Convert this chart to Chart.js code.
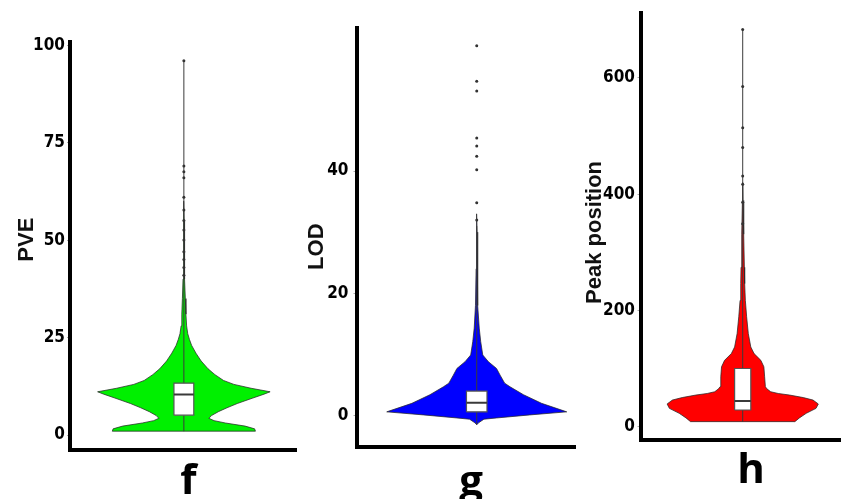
<!DOCTYPE html>
<html>
<head>
<meta charset="utf-8">
<script src="https://cdn.jsdelivr.net/npm/chart.js@4.4.1/dist/chart.umd.min.js"></script>
<style>
html, body { margin: 0; padding: 0; background: #fff; overflow: hidden; }
#wrap { position: relative; width: 844px; height: 499px; }
.panel { position: absolute; top: 0; height: 499px; }
</style>
</head>
<body>
<div id="wrap">
  <div class="panel" style="left:0;width:300px"><canvas id="pveChart"></canvas></div>
  <div class="panel" style="left:300px;width:280px"><canvas id="lodChart"></canvas></div>
  <div class="panel" style="left:580px;width:264px"><canvas id="peakChart"></canvas></div>
</div>
<script>
// ---- PVE (f) ----
const pveLevels = [1.0, 1.6, 2.3, 3.1, 3.7, 4.3, 5.0, 6.0, 7.0, 8.1, 9.5, 10.5, 11.1, 12.0, 13.0, 14.0, 15.5, 17.0, 19.0, 21.0, 23.0, 24.5, 26.0, 28.0, 31.0, 35.0, 40.0, 45.0, 55.0, 60.0];
const pveWidths = [0.83, 0.82, 0.71, 0.48, 0.35, 0.29, 0.32, 0.40, 0.50, 0.62, 0.80, 0.93, 1.0, 0.78, 0.58, 0.46, 0.36, 0.28, 0.20, 0.14, 0.09, 0.065, 0.045, 0.032, 0.024, 0.017, 0.01, 0.006, 0.003, 0];
const pveBox = [5.1, 10.4, 13.3];
const pveWhisker = [1.0, 96];
const pveOutliers = [41, 43, 45, 47, 50, 52.6, 55, 57.7, 61, 66, 67.5, 69, 96];
const pveTicks = [0, 25, 50, 75, 100];

// ---- LOD (g) ----
const lodLevels = [-1.5, -1.2, -0.6, -0.4, 0.1, 0.6, 2.0, 3.4, 4.7, 5.3, 6.6, 7.7, 8.8, 9.9, 12.1, 14.3, 18.0, 24.0, 30.0, 33.0];
const lodWidths = [0, 0.02, 0.08, 0.22, 0.59, 1.0, 0.72, 0.52, 0.37, 0.31, 0.26, 0.22, 0.13, 0.067, 0.044, 0.028, 0.014, 0.007, 0.004, 0];
const lodBox = [0.6, 2.1, 4.0];
const lodWhisker = [-1.5, 31];
const lodOutliers = [32, 34.8, 40.2, 42.4, 44.1, 45.4, 53.1, 54.7, 60.5];
const lodTicks = [0, 20, 40];

// ---- Peak position (h) ----
const peakLevels = [8.6, 15, 22.9, 31.4, 39, 45.7, 50, 54.3, 57, 60, 65, 68.6, 85.7, 102.9, 114, 125.7, 137, 160, 189, 217, 246, 274, 331, 389, 420];
const peakWidths = [0.69, 0.75, 0.84, 0.97, 1.0, 0.93, 0.80, 0.62, 0.47, 0.37, 0.32, 0.30, 0.29, 0.28, 0.24, 0.15, 0.107, 0.074, 0.052, 0.035, 0.026, 0.022, 0.013, 0.004, 0];
const peakBox = [28.6, 44, 100];
const peakWhisker = [8.6, 683];
const peakOutliers = [349, 386, 417, 431, 480, 514, 585, 683];
const peakTicks = [0, 200, 400, 600];

const tickFont = { family: "'Liberation Sans Narrow', 'DejaVu Sans Condensed', 'Liberation Sans', sans-serif", size: 17, weight: "bold" };
const yTitleFont = { family: "'Liberation Sans', Arial, sans-serif", size: 22, weight: "bold" };
const catFont = { family: "'Open Sans', 'Noto Sans', sans-serif", size: 42, weight: "bold", lineHeight: 0.8 };

function makeViolin(id, p) {

    const left = p.levels.map((v, i) => ({ x: -p.widths[i], y: v }));
    const right = p.levels.map((v, i) => ({ x: p.widths[i], y: v })).reverse();
    const outline = left.concat(right);
    outline.push(left[0]);

    const bw = p.boxHalf;
    const box = [
        { x: -bw, y: p.box[0] }, { x: bw, y: p.box[0] },
        { x: bw, y: p.box[2] }, { x: -bw, y: p.box[2] },
        { x: -bw, y: p.box[0] }
    ];

    new Chart(document.getElementById(id), {
        type: "scatter",
        data: {
            datasets: [
                {
                    data: outline,
                    showLine: true,
                    fill: "shape",
                    backgroundColor: p.color,
                    borderColor: "rgba(40,40,40,0.75)",
                    borderWidth: 1,
                    pointRadius: 0,
                    order: 5
                },
                {
                    data: [{ x: 0, y: p.whisker[0] }, { x: 0, y: p.whisker[1] }],
                    showLine: true,
                    borderColor: "#3a3a3a",
                    borderWidth: 1,
                    pointRadius: 0,
                    order: 4
                },
                {
                    data: box,
                    showLine: true,
                    fill: "shape",
                    backgroundColor: "#ffffff",
                    borderColor: "#555555",
                    borderWidth: 1.2,
                    pointRadius: 0,
                    order: 3
                },
                {
                    data: [{ x: -bw, y: p.box[1] }, { x: bw, y: p.box[1] }],
                    showLine: true,
                    borderColor: "#3a3a3a",
                    borderWidth: 2,
                    pointRadius: 0,
                    order: 2
                },
                {
                    data: p.outliers.map(v => ({ x: 0, y: v })),
                    showLine: false,
                    pointRadius: 1.5,
                    pointBackgroundColor: "#333333",
                    pointBorderWidth: 0,
                    order: 1
                }
            ]
        },
        options: {
            responsive: true,
            maintainAspectRatio: false,
            animation: false,
            layout: { padding: p.padding },
            plugins: { legend: { display: false }, tooltip: { enabled: false } },
            scales: {
                x: {
                    type: "linear",
                    min: p.xRange[0],
                    max: p.xRange[1],
                    grid: { display: false },
                    ticks: { display: false },
                    border: { display: true, color: "#000", width: 4 },
                    title: {
                        display: true,
                        text: p.label,
                        color: "#000",
                        font: catFont,
                        padding: { top: 0, bottom: p.labelPad }
                    },
                    afterFit: s => { s.height = p.xHeight; }
                },
                y: {
                    type: "linear",
                    min: p.yRange[0],
                    max: p.yRange[1],
                    afterBuildTicks: s => { s.ticks = p.ticks.map(v => ({ value: v })); },
                    grid: { display: true, drawOnChartArea: false, tickLength: 3, color: "#aaaaaa" },
                    ticks: { color: "#000", font: tickFont, padding: p.tickPad },
                    border: { display: true, color: "#000", width: 4 },
                    title: {
                        display: true,
                        text: p.title,
                        color: "#111",
                        font: yTitleFont,
                        padding: { top: p.titlePad, bottom: 0 }
                    },
                    afterFit: s => { s.width = p.yWidth; }
                }
            }
        }
    });
}

// spaces in the titles only nudge the text along its axis
makeViolin("pveChart", {
    levels: pveLevels, widths: pveWidths, box: pveBox, whisker: pveWhisker, outliers: pveOutliers, ticks: pveTicks,
    color: "#00f000", title: "  PVE", label: " f",
    boxHalf: 0.115, xRange: [-1.32, 1.30], yRange: [-3.7, 100.8],
    padding: { top: 42, right: 2, bottom: 0, left: 0 },
    yWidth: 70, xHeight: 49.5, tickPad: 2, titlePad: 13.8, labelPad: 0.5
});

makeViolin("lodChart", {
    levels: lodLevels, widths: lodWidths, box: lodBox, whisker: lodWhisker, outliers: lodOutliers, ticks: lodTicks,
    color: "#0000ff", title: "LOD   ", label: " g",
    boxHalf: 0.114, xRange: [-1.336, 1.092], yRange: [-5.15, 63.4],
    padding: { top: 28, right: 5, bottom: 0, left: 0 },
    yWidth: 56.5, xHeight: 52, tickPad: 5, titlePad: 3.5, labelPad: -0.5
});

makeViolin("peakChart", {
    levels: peakLevels, widths: peakWidths, box: peakBox, whisker: peakWhisker, outliers: peakOutliers, ticks: peakTicks,
    color: "#ff0000", title: "Peak position  ", label: "  h",
    boxHalf: 0.107, xRange: [-1.352, 1.287], yRange: [-23, 712],
    padding: { top: 11.7, right: 0, bottom: 0, left: 0 },
    yWidth: 60.5, xHeight: 59, tickPad: 2.5, titlePad: 1.8, labelPad: 10.8
});
</script>
</body>
</html>
